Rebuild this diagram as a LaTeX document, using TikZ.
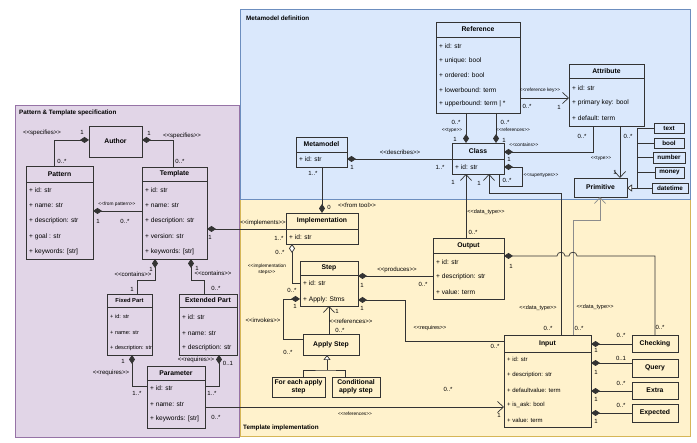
\documentclass[tikz,border=0pt]{standalone}
\usepackage{fontspec}
\setmainfont{Liberation Sans}
\usetikzlibrary{arrows.meta,fit}
\definecolor{purfill}{HTML}{E1D5E7}
\definecolor{purdraw}{HTML}{9673A6}
\definecolor{blufill}{HTML}{DAE8FC}
\definecolor{bludraw}{HTML}{6C8EBF}
\definecolor{yelfill}{HTML}{FFF2CC}
\definecolor{yeldraw}{HTML}{D6B656}
\definecolor{ink}{HTML}{333333}
\newcommand{\stereo}[1]{<\kern0pt<#1>\kern0pt>}
\tikzset{
 box/.style={draw=ink, line width=0.8pt, inner sep=0pt, outer sep=0pt},
 ttl/.style={font=\fontsize{6.8}{8}\selectfont\bfseries, inner sep=0pt, align=center},
 att/.style={font=\fontsize{6.6}{8}\selectfont, inner sep=0pt, anchor=west},
 conn/.style={draw=ink, line width=0.7pt},
 comp/.style={conn, {Diamond[length=9pt,width=6pt]}-},
 compend/.style={conn, -{Diamond[length=9pt,width=6pt]}},
 agg/.style={conn, {Diamond[length=9pt,width=6pt,fill=white]}-},
 assoc/.style={conn, -{Straight Barb[length=6pt,width=11pt]}},
 gen/.style={conn, -{Triangle[length=5pt,width=7pt,fill=white]}},
 mlab/.style={font=\fontsize{6}{7}\selectfont, inner sep=0pt},
 stlab/.style={font=\fontsize{6.1}{7}\selectfont, inner sep=0pt},
 tilab/.style={font=\fontsize{4.8}{5.6}\selectfont, inner sep=0pt, align=center},
 dtlab/.style={font=\fontsize{5.5}{6.5}\selectfont, inner sep=0pt},
 ptitle/.style={font=\fontsize{6.3}{7.5}\selectfont\bfseries, anchor=west, inner sep=0pt},
}
% name, x1, y1, x2, y2, separator y, title, rows
\newcommand{\uclass}[8]{%
  \node[box, fit={(#2,#3)(#4,#5)}] (#1) {};
  \draw[box] (#2,#6) -- (#4,#6);
  \node[ttl] (#1-t) at ({(#2+#4)/2},{(#3+#6)/2}) {#7};
  \foreach \ry/\rt [count=\ri] in {#8}{\node[att] (#1-r\ri) at ({#2+3},\ry) {\rt};}
}
\newcommand{\ubox}[6]{%
  \node[box, fit={(#2,#3)(#4,#5)}] (#1) {};
  \node[ttl] (#1-t) at (#1.center) {#6};
}
\begin{document}
\begin{tikzpicture}[x=1pt,y=-1pt]
\fill[white] (0,0) rectangle (697,443);
\useasboundingbox (0,0) rectangle (697,443);
% panels
\draw[line width=0.8pt, fill=purfill, draw=purdraw] (15,105) rectangle (239,437);
\draw[line width=0.8pt, fill=yelfill, draw=yeldraw] (240,199) rectangle (690,436);
\draw[line width=0.8pt, fill=blufill, draw=bludraw] (240,9) rectangle (690,199);
\node[ptitle] (p1) at (19,113) {Pattern \& Template specification};
\node[ptitle] (p2) at (246,18) {Metamodel definition};
\node[ptitle] (p3) at (243,428) {Template implementation};

% ---------- Pattern & Template specification
\ubox{author}{89}{126}{142}{157}{Author}
\uclass{pattern}{26}{166}{93}{259}{182}{Pattern}{190/+ id: str, 205.5/+ name: str, 221/+ description: str, 236.5/+ goal : str, 252/+ keywords: [str]}
\uclass{template}{142}{167}{207}{259}{181}{Template}{190/+ id: str, 205.5/+ name: str, 221/+ description: str, 236.5/+ version: str, 252/+ keywords: [str]}
\begin{scope}[att/.append style={font=\fontsize{5.6}{7}\selectfont}, ttl/.append style={font=\fontsize{5.8}{7}\selectfont\bfseries}]
\uclass{fixed}{107}{294}{152}{355}{307}{Fixed Part}{317/+ id: str, 333/+ name: str, 348/+ description: str}
\end{scope}
\uclass{extended}{179}{294}{237}{355}{307}{Extended Part}{317/+ id: str, 333/+ name: str, 348/+ description: str}
\uclass{parameter}{147}{366}{205}{428}{380}{Parameter}{388/+ id: str, 404/+ name: str, 419/+ keywords: [str]}

% ---------- Metamodel definition
\uclass{reference}{436}{22}{520}{113}{37}{Reference}{46/+ id: str, 61/+ unique: bool, 75/+ ordered: bool, 90/+ lowerbound: term, 104/+ upperbound: term | *}
\uclass{attribute}{569}{64}{644}{126}{78}{Attribute}{88/+ id: str, 103/+ primary key: bool, 118/+ default: term}
\uclass{metamodel}{296}{137}{347}{167}{152}{Metamodel}{159.5/+ id: str}
\uclass{class}{452}{143}{504}{174}{159}{Class}{167/+ id: str}
\ubox{primitive}{574}{178}{627}{197}{Primitive}
\begin{scope}[ttl/.append style={font=\fontsize{6.3}{7.5}\selectfont\bfseries}]
\ubox{ptext}{654}{123}{684}{133}{text}
\ubox{pbool}{654}{138}{684}{148}{bool}
\ubox{pnumber}{653}{152}{685}{163}{number}
\ubox{pmoney}{655}{167}{684}{178}{money}
\ubox{pdatetime}{652}{183}{688}{193}{datetime}
\end{scope}

% ---------- Template implementation
\uclass{impl}{286}{213}{358}{244}{229}{Implementation}{237/+ id: str}
\uclass{step}{300}{261}{358}{306}{275}{Step}{283/+ id: str, 299.5/+ Apply: Stms}
\uclass{output}{433}{238}{504}{299}{253}{Output}{262/+ id: str, 277/+ description: str, 292/+ value: term}
\begin{scope}[att/.append style={font=\fontsize{6}{7}\selectfont}]
\uclass{input}{504}{335}{591}{427}{352}{Input}{359/+ id: str, 374.5/+ description: str, 390/+ defaultvalue: term, 405/+ is\_ask: bool, 420/+ value: term}
\end{scope}
\ubox{applystep}{303}{334}{359}{355}{Apply Step}
\ubox{foreach}{272}{377}{325}{397}{For each apply\\step}
\ubox{cond}{332}{377}{380}{397}{Conditional\\apply step}
\ubox{checking}{632}{335}{678}{352}{Checking}
\ubox{query}{632}{359}{678}{377}{Query}
\ubox{extra}{632}{382}{678}{399}{Extra}
\ubox{expected}{632}{404}{678}{422}{Expected}

% ---------- connectors (purple)
\draw[comp] (author.west |- 0,140) -| (pattern.north -| 54,0);
\draw[comp] (author.east |- 0,140) -| (template.north -| 173,0);
\draw[comp] (pattern.east |- 0,211) -- (template.west |- 0,211);
\draw[comp] (template.east |- 0,229) -- (impl.west |- 0,229);
\draw[comp] (template.south -| 155,0) -- (155,280) -- (137,280) -- (fixed.north -| 137,0);
\draw[comp] (template.south -| 191,0) -- (191,280) -- (204,280) -- (extended.north -| 204,0);
\draw[comp] (fixed.south -| 132,0) |- (parameter.west |- 0,386);
\draw[comp] (extended.south -| 219,0) |- (parameter.east |- 0,386);
\draw[assoc] (parameter.east |- 0,407) -- (input.west |- 0,407);

% ---------- connectors (metamodel)
\draw[comp] (metamodel.east |- 0,159) -- (class.west |- 0,159);
\draw[compend] (metamodel.south -| 322,0) -- (impl.north -| 322,0);
\draw[compend] (reference.south -| 466,0) -- (class.north -| 466,0);
\draw[compend] (reference.south -| 496,0) -- (class.north -| 496,0);
\draw[assoc] (reference.east |- 0,98) -- (attribute.west |- 0,98);
\draw[comp] (class.east |- 0,152) -| (attribute.south -| 593,0);
\draw[comp] (class.east |- 0,167) -- (522,167) -- (522,186) -- (499,186) -- (class.south -| 499,0);
\draw[assoc] (attribute.south -| 620,0) -- (primitive.north -| 620,0);
\draw[conn] (ptext.west) -- (637,128) -- (637,188);
\draw[conn] (pbool.west) -- (637,143);
\draw[conn] (pnumber.west) -- (637,157.5);
\draw[conn] (pmoney.west) -- (637,172.5);
\draw[gen] (pdatetime.west) -- (primitive.east |- 0,188);

% ---------- connectors (implementation)
\draw[assoc] (output.north -| 466,0) -- (class.south -| 466,0);
\draw[assoc] (input.north -| 561,0) -- (561,193) -- (489,193) -- (class.south -| 489,0);
\draw[assoc, draw=black!45] (input.north -| 573,0) -- (573,220) -- (600,220) -- (primitive.south -| 600,0);
\draw[comp] (output.east |- 0,256) -- (557,256) .. controls (557,251) and (565,251) .. (565,256) -- (569,256) .. controls (569,251) and (577,251) .. (577,256) -- (655,256) -- (checking.north);
\draw[comp] (input.east |- 0,344) -- (checking.west |- 0,344);
\draw[comp] (input.east |- 0,363) -- (query.west |- 0,363);
\draw[comp] (input.east |- 0,391) -- (extra.west |- 0,391);
\draw[comp] (input.east |- 0,413) -- (expected.west |- 0,413);
\draw[comp] (step.east |- 0,276) -- (output.west |- 0,276);
\draw[comp] (step.east |- 0,300) -- (405,300) |- (input.west |- 0,341);
\draw[agg] (impl.south -| 292,0) |- (step.west |- 0,283);
\draw[comp] (step.west |- 0,299) -- (283,299) |- (applystep.west |- 0,339);
\draw[assoc] (applystep.north -| 329,0) -- (step.south -| 329,0);
\coordinate (gj) at (327,370);
\draw[conn] (foreach.north -| 303,0) |- (gj) -| (cond.north -| 345,0);
\draw[gen] (gj) -- (applystep.south -| 327,0);

% ---------- labels (purple)
\node[stlab] (a1) at (42,133) {\stereo{specifies}};
\node[mlab] (a2) at (82,132) {1};
\node[mlab] (a3) at (62,161) {0..*};
\node[mlab] (a4) at (149,133) {1};
\node[stlab] (a5) at (182,136) {\stereo{specifies}};
\node[mlab] (a6) at (180,161) {0..*};
\node[tilab] (a7) at (117,204) {\stereo{from pattern}};
\node[mlab] (a8) at (98,221) {1};
\node[mlab] (a9) at (125,221) {0..*};
\node[mlab] (a10) at (210,237) {1};
\node[mlab] (a11) at (151,269) {1};
\node[stlab] (a12) at (133,274) {\stereo{contains}};
\node[mlab] (a13) at (132,289) {1};
\node[mlab] (a14) at (197,268) {1};
\node[stlab] (a15) at (213,273) {\stereo{contains}};
\node[mlab] (a16) at (216,288) {0..*};
\node[mlab] (a17) at (123,361) {1};
\node[stlab] (a18) at (111,373) {\stereo{requires}};
\node[mlab] (a19) at (137,393) {1..*};
\node[stlab] (a20) at (196,360) {\stereo{requires}};
\node[mlab] (a21) at (228,363) {0..1};
\node[mlab] (a22) at (212,393) {1..*};
\node[mlab] (a23) at (216,417) {0..*};

% ---------- labels (metamodel)
\node[stlab] (b1) at (263,223) {\stereo{implements}};
\node[mlab] (b2) at (279,238) {1..*};
\node[stlab] (b3) at (400,152) {\stereo{describes}};
\node[mlab] (b4) at (352,167) {1};
\node[mlab] (b5) at (440,167) {1..*};
\node[mlab] (b6) at (313,173) {1..*};
\node[mlab] (b7) at (329,207) {0};
\node[stlab] (b8) at (357,205) {\stereo{from tool}};
\node[mlab] (b9) at (456,122) {0..*};
\node[tilab] (b10) at (452,130) {\stereo{type}};
\node[mlab] (b11) at (455,139) {1};
\node[mlab] (b12) at (505,122) {0..*};
\node[tilab] (b13) at (513,130) {\stereo{references}};
\node[mlab] (b14) at (504,140) {1};
\node[tilab] (b15) at (540,90) {\stereo{reference key}};
\node[mlab] (b16) at (527,106) {0..*};
\node[mlab] (b17) at (559,107) {1};
\node[tilab] (b18) at (524,145) {\stereo{contains}};
\node[mlab] (b19) at (582,136) {0..*};
\node[mlab] (b20) at (509,159) {1};
\node[tilab] (b21) at (541,175) {\stereo{supertypes}};
\node[mlab] (b22) at (507,180) {0..*};
\node[mlab] (b23) at (628,136) {0..*};
\node[tilab] (b24) at (601,158) {\stereo{type}};
\node[mlab] (b25) at (615,172) {1};

% ---------- labels (implementation)
\node[mlab] (c1) at (453,182) {1};
\node[dtlab] (c2) at (486,212) {\stereo{data\_type}};
\node[mlab] (c3) at (473,232) {0..*};
\node[mlab] (c4) at (479,183) {1};
\node[dtlab] (c5) at (538,308) {\stereo{data\_type}};
\node[mlab] (c6) at (548,328) {0..*};
\node[dtlab] (c7) at (595,307) {\stereo{data\_type}};
\node[mlab] (c8) at (579,328) {0..*};
\node[mlab] (c9) at (511,266) {1};
\node[mlab] (c10) at (660,327) {0..*};
\node[mlab] (c11) at (596,350) {1};
\node[mlab] (c12) at (621,335) {0..*};
\node[mlab] (c13) at (596,372) {1};
\node[mlab] (c14) at (621,358) {0..1};
\node[mlab] (c15) at (596,399) {1};
\node[mlab] (c16) at (621,383) {0..*};
\node[mlab] (c17) at (596,421) {1};
\node[mlab] (c18) at (621,405) {0..*};
\node[stlab] (c19) at (397,270) {\stereo{produces}};
\node[mlab] (c20) at (362,285) {1};
\node[mlab] (c21) at (423,284) {0..*};
\node[mlab] (c22) at (362,308) {1};
\node[dtlab] (c23) at (430,328) {\stereo{requires}};
\node[mlab] (c24) at (495,346) {0..*};
\node[mlab] (c25) at (280,252) {0..*};
\node[tilab] (c26) at (267,269) {<\kern0pt<implementation\\steps>\kern0pt>};
\node[mlab] (c27) at (292,290) {0..*};
\node[mlab] (c28) at (295,306) {1};
\node[stlab] (c29) at (263,320) {\stereo{invokes}};
\node[mlab] (c30) at (288,352) {0..*};
\node[mlab] (c31) at (337,311) {1};
\node[stlab] (c32) at (351,321) {\stereo{references}};
\node[mlab] (c33) at (340,330) {0..*};
\node[tilab] (c34) at (355,414) {\stereo{references}};
\node[mlab] (c35) at (499,415) {1};
\node[mlab] (c36) at (448,389) {0..*};
\end{tikzpicture}
\end{document}
